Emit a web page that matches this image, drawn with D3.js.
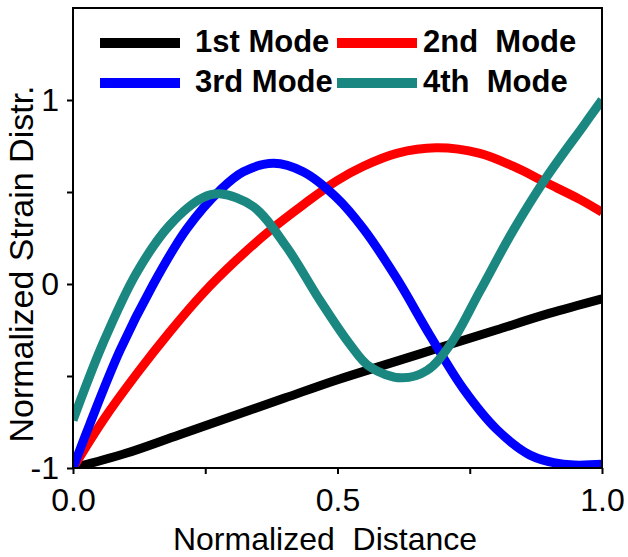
<!DOCTYPE html>
<html>
<head>
<meta charset="utf-8">
<script src="https://cdn.jsdelivr.net/npm/d3@7"></script>
<style>
  body { margin: 0; background: #fff; }
  text { font-family: "Liberation Sans", Arial, sans-serif; fill: #000; }
</style>
</head>
<body>
<div id="chart"></div>
<script>
// data
var modeNames = ["1st Mode", "2nd  Mode", "3rd Mode", "4th  Mode"];
var modeColors = ["#000000", "#ff0000", "#0000ff", "#1a8780"];

var mode1X = [0, 0.1, 0.2, 0.3, 0.4, 0.5, 0.6, 0.7, 0.8, 0.9, 1.0];
var mode1Y = [-1, -0.92, -0.82, -0.72, -0.62, -0.52, -0.43, -0.34, -0.25, -0.16, -0.08];

var mode2X = [0, 0.057, 0.12, 0.183, 0.246, 0.309, 0.372, 0.435, 0.498, 0.549, 0.612, 0.687, 0.769, 0.832, 0.895, 0.958, 1.0];
var mode2Y = [-1, -0.74, -0.49, -0.26, -0.05, 0.13, 0.29, 0.43, 0.56, 0.64, 0.71, 0.74, 0.71, 0.64, 0.55, 0.46, 0.39];

var mode3X = [0, 0.032, 0.089, 0.152, 0.215, 0.278, 0.322, 0.379, 0.435, 0.498, 0.549, 0.612, 0.675, 0.738, 0.801, 0.864, 0.927, 1.0];
var mode3Y = [-1, -0.76, -0.36, 0.0, 0.30, 0.51, 0.61, 0.656, 0.61, 0.47, 0.30, 0.03, -0.28, -0.57, -0.79, -0.93, -0.98, -0.98];

var mode4X = [0, 0.057, 0.12, 0.183, 0.246, 0.278, 0.341, 0.404, 0.467, 0.524, 0.561, 0.621, 0.669, 0.713, 0.769, 0.832, 0.895, 0.965, 1.0];
var mode4Y = [-0.74, -0.32, 0.06, 0.32, 0.47, 0.49, 0.42, 0.20, -0.09, -0.33, -0.45, -0.51, -0.47, -0.33, -0.04, 0.29, 0.58, 0.86, 1.0];

var xTicks = [0, 0.25, 0.5, 0.75, 1.0];
var xTickLabels = ["0.0", "", "0.5", "", "1.0"];
var yTicks = [-1, -0.5, 0, 0.5, 1];
var yTickLabels = ["-1", "", "0", "", "1"];

var xs = [mode1X, mode2X, mode3X, mode4X];
var ys = [mode1Y, mode2Y, mode3Y, mode4Y];

var width = 628, height = 557;
var margin = {top: 8, right: 26, bottom: 89, left: 73};
var w = width - margin.left - margin.right,
    h = height - margin.top - margin.bottom;

var svg = d3.select("#chart").append("svg")
    .attr("width", width)
    .attr("height", height);

var g = svg.append("g")
    .attr("transform", "translate(" + margin.left + "," + margin.top + ")");

var xScale = d3.scaleLinear().domain([0, 1]).range([0, w]);
var yScale = d3.scaleLinear().domain([-1, 1.5]).range([h, 0]);

g.append("clipPath").attr("id", "clip")
  .append("rect").attr("width", w).attr("height", h);

// curves
var line = d3.line()
    .x(function(d) { return xScale(d[0]); })
    .y(function(d) { return yScale(d[1]); })
    .curve(d3.curveCatmullRom.alpha(0.5));

var series = xs.map(function(xv, i) {
  return xv.map(function(x, j) { return [x, ys[i][j]]; });
});

g.append("g").attr("clip-path", "url(#clip)")
  .selectAll("path")
  .data(series)
  .enter().append("path")
    .attr("d", line)
    .attr("fill", "none")
    .attr("stroke", function(d, i) { return modeColors[i]; })
    .attr("stroke-width", 9)
    .attr("stroke-linejoin", "round");

// frame
g.append("rect")
    .attr("width", w).attr("height", h)
    .attr("fill", "none")
    .attr("stroke", "#000")
    .attr("stroke-width", 2);

// x axis
var xAxis = d3.axisBottom(xScale)
    .tickValues(xTicks)
    .tickSize(6)
    .tickFormat(function(d, i) { return xTickLabels[i]; });

var gx = g.append("g")
    .attr("transform", "translate(0," + h + ")")
    .call(xAxis);
gx.select(".domain").remove();
gx.selectAll("line").attr("stroke-width", 2);
gx.selectAll("text")
    .attr("y", 20)
    .attr("dy", "0.71em")
    .style("font-size", "32px")
    .style("font-family", "'Liberation Sans', Arial, sans-serif");

// y axis
var yAxis = d3.axisLeft(yScale)
    .tickValues(yTicks)
    .tickSize(6)
    .tickFormat(function(d, i) { return yTickLabels[i]; });

var gy = g.append("g").call(yAxis);
gy.select(".domain").remove();
gy.selectAll("line").attr("stroke-width", 2);
gy.selectAll("text")
    .attr("x", -14)
    .style("font-size", "32px")
    .style("font-family", "'Liberation Sans', Arial, sans-serif");

// axis titles
svg.append("text")
    .attr("x", 325)
    .attr("y", 550)
    .attr("text-anchor", "middle")
    .style("font-size", "32px")
    .style("white-space", "pre")
    .text("Normalized  Distance");

svg.append("text")
    .attr("transform", "translate(33,264) rotate(-90)")
    .attr("text-anchor", "middle")
    .style("font-size", "34px")
    .text("Normalized Strain Distr.");

// legend
var legendPos = [[100, 43], [337, 43], [100, 83], [337, 83]];
var legend = svg.selectAll(".legend")
    .data(modeNames)
  .enter().append("g")
    .attr("class", "legend")
    .attr("transform", function(d, i) { return "translate(" + legendPos[i][0] + "," + legendPos[i][1] + ")"; });

legend.append("line")
    .attr("x1", 0).attr("x2", 80)
    .attr("stroke", function(d, i) { return modeColors[i]; })
    .attr("stroke-width", 10);

legend.append("text")
    .attr("x", function(d, i) { return i % 2 === 0 ? 95 : 86; })
    .attr("y", 9)
    .style("font-size", "31px")
    .style("font-weight", "bold")
    .style("white-space", "pre")
    .text(function(d) { return d; });
</script>
</body>
</html>
